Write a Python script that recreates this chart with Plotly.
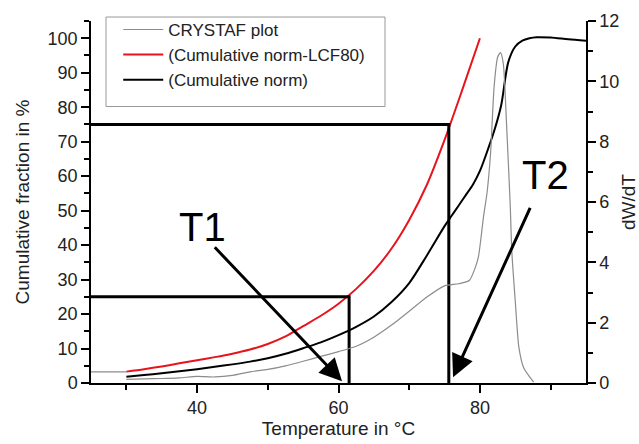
import plotly.graph_objects as go

# ---- data ----
temp_crystaf_pre = [25, 30]
dwdt_pre = [0.37, 0.37]

temp_crystaf = [30, 32.5, 35, 37.5, 40, 42.5, 45, 47.5, 50, 52.5, 55, 57.5, 60, 62.5,
                65, 67.5, 70, 72.5, 75, 77, 78.5, 79.3, 79.8, 80.5, 81, 81.5, 82, 82.5,
                82.9, 83.3, 83.8, 84.3, 84.5, 85, 85.5, 86.2, 87.6]
dwdt = [0.12, 0.14, 0.15, 0.17, 0.22, 0.20, 0.25, 0.37, 0.45, 0.57, 0.72, 0.88, 1.04, 1.22,
        1.52, 1.92, 2.38, 2.85, 3.22, 3.29, 3.40, 3.8, 4.2, 5.5, 6.3, 7.6, 9.8, 10.8,
        10.95, 10.6, 8.4, 5.8, 4.4, 2.7, 1.2, 0.5, 0.03]

temp_lcf = [30, 32.5, 35, 37.5, 40, 42.5, 45, 47.5, 50, 52.5, 55, 57.5, 60, 62.5, 65,
            67.5, 70, 72.5, 75, 77.5, 80]
cum_lcf = [3.3, 4.0, 4.8, 5.7, 6.6, 7.5, 8.5, 9.7, 11.3, 13.5, 16.5, 19.5, 23, 27.3, 32.5,
           39, 47.3, 57.5, 70.5, 85, 100]

temp_norm = [30, 32.5, 35, 37.5, 40, 42.5, 45, 47.5, 50, 52.5, 55, 57.5, 60, 62.5, 65,
             67.5, 70, 72.5, 75, 76, 77, 78, 79, 80, 81, 82, 83, 84, 85, 86, 87, 88, 90,
             92.5, 95]
cum_norm = [1.8, 2.3, 2.8, 3.4, 4.0, 4.7, 5.4, 6.2, 7.2, 8.5, 10.1, 11.8, 13.9, 16.3, 19.3,
            23.5, 29, 37, 45.5, 48.5, 51.5, 54.5, 57.5, 61.5, 67, 73, 80.5, 93, 97.6, 99.3,
            100, 100.3, 100.2, 99.7, 99.3]

x_range = [25, 95]
y_range = [0, 105]
y2_range = [0, 12]
frac_low, frac_high = 25, 75
t1_temp, t2_temp = 61.5, 75.6

t1_label = ("T1", 40.8, 45.3)
t2_label = ("T2", 89.3, 60.2)
t1_arrow = dict(head=(60.5, 0.5), tail=(42.3, 39.8))
t2_arrow = dict(head=(76.2, 1.7), tail=(87.2, 51.2))

FONT = "Liberation Sans, Arial, sans-serif"

fig = go.Figure()

fig.add_trace(go.Scatter(x=temp_crystaf_pre + [None] + temp_crystaf,
                         y=dwdt_pre + [None] + dwdt,
                         mode="lines", name="CRYSTAF plot", yaxis="y2",
                         line=dict(color="#8c8c8c", width=1.2, shape="spline",
                                   smoothing=0.6)))
fig.add_trace(go.Scatter(x=temp_lcf, y=cum_lcf, mode="lines",
                         name="(Cumulative norm-LCF80)",
                         line=dict(color="#e8141c", width=2, shape="spline", smoothing=0.8)))
fig.add_trace(go.Scatter(x=temp_norm, y=cum_norm, mode="lines",
                         name="(Cumulative norm)",
                         line=dict(color="black", width=2, shape="spline", smoothing=0.8)))

# T1 / T2 construction lines
fig.add_trace(go.Scatter(x=[x_range[0], t1_temp, t1_temp], y=[frac_low, frac_low, 0],
                         mode="lines", showlegend=False, hoverinfo="skip",
                         line=dict(color="black", width=3)))
fig.add_trace(go.Scatter(x=[x_range[0], t2_temp, t2_temp], y=[frac_high, frac_high, 0],
                         mode="lines", showlegend=False, hoverinfo="skip",
                         line=dict(color="black", width=3)))

annotations = []
for txt, x, y in (t1_label, t2_label):
    annotations.append(dict(x=x, y=y, xref="x", yref="y", text=txt, showarrow=False,
                            font=dict(family=FONT, size=40, color="black")))
for arr in (t1_arrow, t2_arrow):
    annotations.append(dict(x=arr["head"][0], y=arr["head"][1], xref="x", yref="y",
                            ax=arr["tail"][0], ay=arr["tail"][1], axref="x", ayref="y",
                            text="", showarrow=True, arrowhead=2, arrowsize=1.5,
                            arrowwidth=3, arrowcolor="black", standoff=0))

axis_common = dict(showgrid=False, zeroline=False, showline=True, linecolor="black",
                   linewidth=1.5, ticks="outside", ticklen=8, tickwidth=1.5,
                   tickcolor="black", automargin=False,
                   tickfont=dict(family=FONT, size=18, color="#222"))

fig.update_layout(
    width=639, height=444,
    margin=dict(l=91, r=53, t=19, b=61),
    paper_bgcolor="white", plot_bgcolor="white",
    font=dict(family=FONT, color="#222"),
    showlegend=True,
    legend=dict(x=0.055, y=1.025, xanchor="left", yanchor="top",
                bgcolor="rgba(0,0,0,0)", borderwidth=0,
                font=dict(family=FONT, size=17, color="#222"),
                itemwidth=40, tracegroupgap=0),
    xaxis=dict(range=x_range, tickvals=[40, 60, 80],
               minor=dict(tickvals=[30, 50, 70, 90], ticklen=5, tickwidth=1.5,
                          tickcolor="black", ticks="outside"),
               title=dict(text="Temperature in °C", font=dict(family=FONT, size=19),
                          standoff=4),
               **axis_common),
    yaxis=dict(range=y_range, tickvals=list(range(0, 101, 10)),
               minor=dict(tickvals=list(range(5, 106, 10)), ticklen=5, tickwidth=1.5,
                          tickcolor="black", ticks="outside"),
               title=dict(text="Cumulative fraction in %", font=dict(family=FONT, size=19),
                          standoff=13),
               **axis_common),
    yaxis2=dict(range=y2_range, overlaying="y", side="right",
                tickvals=list(range(0, 13, 2)),
                minor=dict(tickvals=list(range(1, 12, 2)), ticklen=5, tickwidth=1.5,
                           tickcolor="black", ticks="outside"),
                title=dict(text="dW/dT", font=dict(family=FONT, size=19), standoff=10),
                **axis_common),
    shapes=[dict(type="rect", xref="paper", yref="paper",
                 x0=15 / 495, x1=294 / 495, y0=(383 - 105) / 364, y1=(383 - 15) / 364,
                 line=dict(color="#999999", width=1), fillcolor="rgba(0,0,0,0)",
                 layer="above")],
    annotations=annotations,
)

fig.write_html("out.html")
